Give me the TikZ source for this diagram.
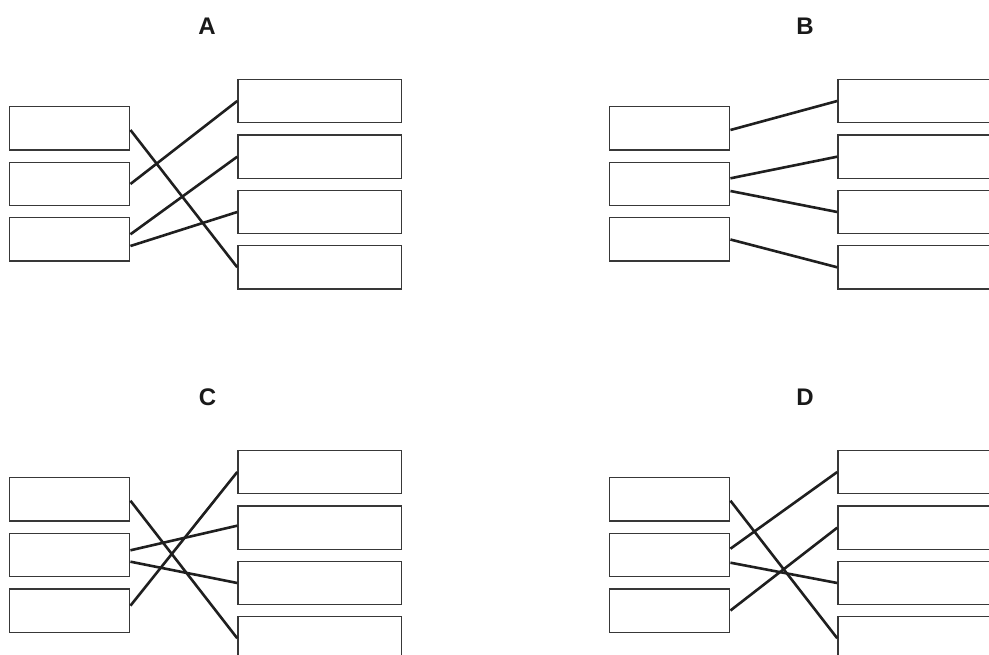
\documentclass[tikz,border=0pt]{standalone}
\usepackage{fontspec}
\setmainfont{Liberation Sans}
\tikzset{
  lbox/.style={draw=black!78, line width=1.4pt, fill=white, minimum width=120.5pt, minimum height=43.4pt, inner sep=0pt},
  rbox/.style={draw=black!78, line width=1.4pt, fill=white, minimum width=163.7pt, minimum height=43.4pt, inner sep=0pt},
  conn/.style={draw=black!88, line width=2.6pt},
  plabel/.style={anchor=base, inner sep=0pt, font=\fontsize{24}{24}\selectfont\bfseries, text=black!90}
}
\newcommand\mkboxes[1]{%
  \node[lbox] (#1l1) at (69.5,128.4) {};
  \node[lbox] (#1l2) at (69.5,184.0) {};
  \node[lbox] (#1l3) at (69.5,239.5) {};
  \node[rbox] (#1r1) at (319.8,101.0) {};
  \node[rbox] (#1r2) at (319.8,156.7) {};
  \node[rbox] (#1r3) at (319.8,212.0) {};
  \node[rbox] (#1r4) at (319.8,267.3) {};
}
\begin{document}
\begin{tikzpicture}[x=1pt,y=-1pt]
\useasboundingbox (0,0) rectangle (989,655);
% Panel A
\begin{scope}
  \node[plabel] (la) at (207,35) {A};
  \mkboxes{a}
  \draw[conn] ([yshift=-1.6pt]al1.east) -- (ar4.west);
  \draw[conn] (al2.east) -- (ar1.west);
  \draw[conn] ([yshift=5.2pt]al3.east) -- (ar2.west);
  \draw[conn] ([yshift=-6.5pt]al3.east) -- (ar3.west);
\end{scope}
% Panel B
\begin{scope}[shift={(600,0)}]
  \node[plabel] (lb) at (205,35) {B};
  \mkboxes{b}
  \draw[conn] ([yshift=-1.6pt]bl1.east) -- (br1.west);
  \draw[conn] ([yshift=5.7pt]bl2.east) -- (br2.west);
  \draw[conn] ([yshift=-7pt]bl2.east) -- (br3.west);
  \draw[conn] (bl3.east) -- (br4.west);
\end{scope}
% Panel C
\begin{scope}[shift={(0,371)}]
  \node[plabel] (lc) at (207.5,35) {C};
  \mkboxes{c}
  \draw[conn] ([yshift=-1.3pt]cl1.east) -- (cr4.west);
  \draw[conn] ([yshift=4.7pt]cl2.east) -- ([yshift=2pt]cr2.west);
  \draw[conn] ([yshift=-6.7pt]cl2.east) -- (cr3.west);
  \draw[conn] ([yshift=4.8pt]cl3.east) -- (cr1.west);
\end{scope}
% Panel D
\begin{scope}[shift={(600,371)}]
  \node[plabel] (ld) at (205,35) {D};
  \mkboxes{d}
  \draw[conn] ([yshift=-1.3pt]dl1.east) -- (dr4.west);
  \draw[conn] ([yshift=6.3pt]dl2.east) -- (dr1.west);
  \draw[conn] ([yshift=-7.7pt]dl2.east) -- (dr3.west);
  \draw[conn] (dl3.east) -- (dr2.west);
\end{scope}
\end{tikzpicture}
\end{document}
